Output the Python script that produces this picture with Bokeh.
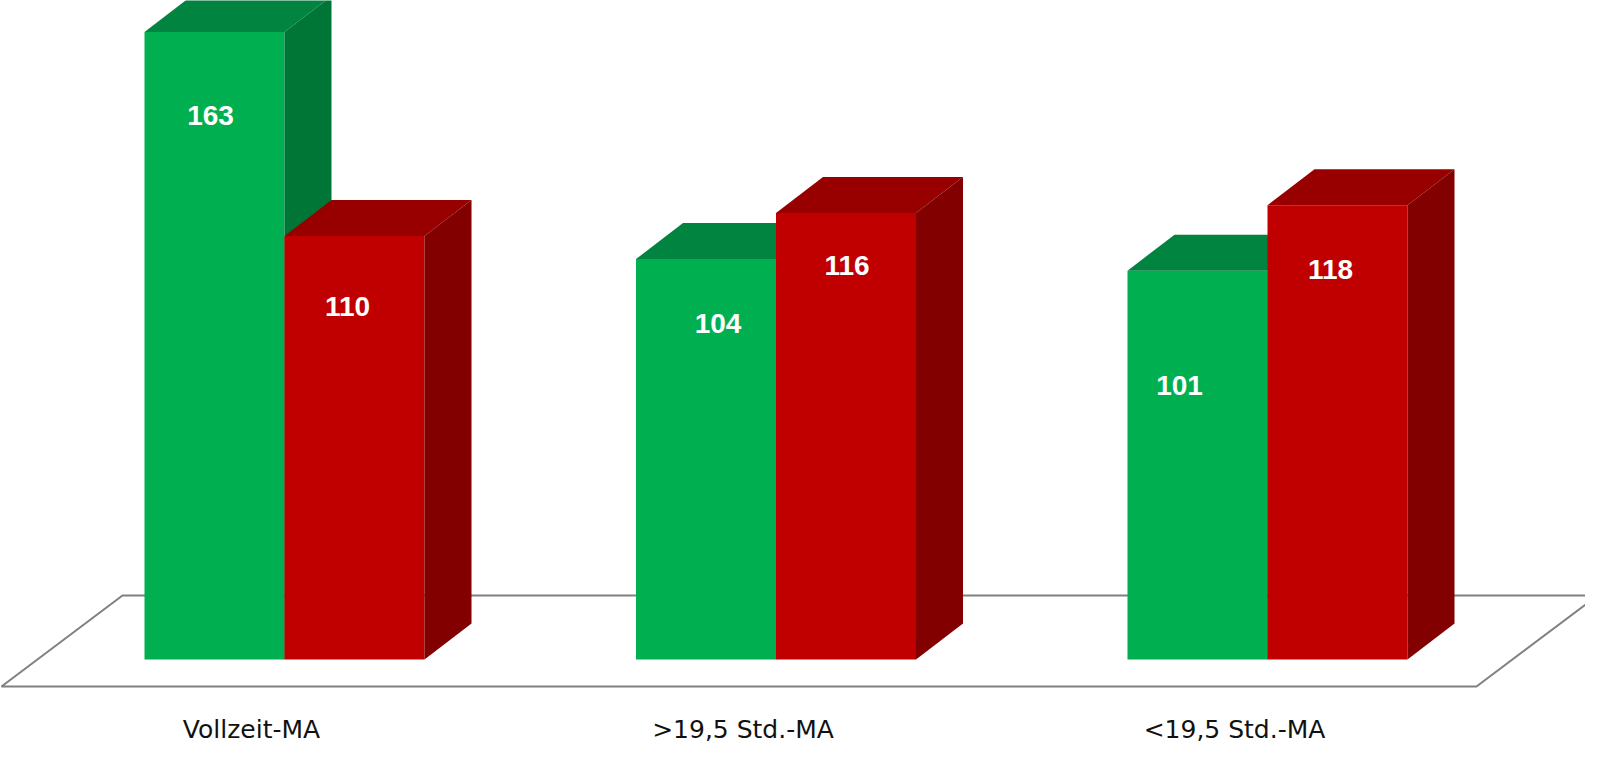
from bokeh.plotting import figure
from bokeh.models import ColumnDataSource, Range1d
from bokeh.core.properties import value
from bokeh.embed import file_html
from bokeh.resources import INLINE

# ---- data ----
categories = ["Vollzeit-MA", ">19,5 Std.-MA", "<19,5 Std.-MA"]
green_values = [163, 104, 101]
red_values = [110, 116, 118]

# ---- layout / style constants ----
W, H = 1585, 744
PX_X = 491.5          # pixels per category unit
PX_Y = 3.85           # pixels per value unit
X0_PX = 284           # pixel x of first category centre
BASE_PX = 659         # pixel y (from top) of value 0
BAR_W = 140 / PX_X
DX = 47 / PX_X        # 3D depth offset
DY = 36 / PX_Y
FLOOR_FRONT = -27 / PX_Y
FLOOR_BACK = 64 / PX_Y
FLOOR_DX = 121 / PX_X

GREEN = ("#00B050", "#00843F", "#007636")
RED = ("#C00000", "#980000", "#820000")

# label tweaks (pixels): below bar top, horizontal shift
g_lab_dy = [84, 64, 115]
g_lab_dx = [-4, 12, -18]
r_lab_dy = [70, 53, 64]
r_lab_dx = [-7, 1, -7]

p = figure(width=W, height=H, output_backend="svg", toolbar_location=None,
           x_range=Range1d(-X0_PX / PX_X, (W - X0_PX) / PX_X),
           y_range=Range1d(-(H - BASE_PX) / PX_Y, BASE_PX / PX_Y),
           min_border=0, outline_line_color=None)
p.axis.visible = False
p.grid.visible = False
p.background_fill_color = "white"
p.border_fill_color = "white"

# floor
n = len(categories)
fl = -0.5758
fr = (n - 1) + 0.4252
p.patch([fl, fr, fr + FLOOR_DX, fl + FLOOR_DX],
        [FLOOR_FRONT, FLOOR_FRONT, FLOOR_BACK, FLOOR_BACK],
        fill_color=None, line_color="#808080", line_width=2)

xs, ys, cols = [], [], []

def add_bar(x0, x1, h, colors):
    front, top, side = colors
    xs.append([x0, x1, x1, x0]); ys.append([0, 0, h, h]); cols.append(front)
    xs.append([x0, x1, x1 + DX, x0 + DX]); ys.append([h, h, h + DY, h + DY]); cols.append(top)
    xs.append([x1, x1 + DX, x1 + DX, x1]); ys.append([0, DY, h + DY, h]); cols.append(side)

for i in range(n):
    add_bar(i - BAR_W, i, green_values[i], GREEN)
    add_bar(i, i + BAR_W, red_values[i], RED)

p.patches(xs=xs, ys=ys, fill_color=cols, line_color=None)

# value labels
lx, ly, lt = [], [], []
for i in range(n):
    lx.append(i - BAR_W / 2 + g_lab_dx[i] / PX_X)
    ly.append(green_values[i] - g_lab_dy[i] / PX_Y)
    lt.append(str(green_values[i]))
    lx.append(i + BAR_W / 2 + r_lab_dx[i] / PX_X)
    ly.append(red_values[i] - r_lab_dy[i] / PX_Y)
    lt.append(str(red_values[i]))
p.text(x=lx, y=ly, text=lt, text_color="white", text_font=value("Liberation Sans"),
       text_font_style="bold", text_font_size="28px", text_align="center",
       text_baseline="middle")

# category labels
p.text(x=[i - 33 / PX_X for i in range(n)], y=[-70 / PX_Y] * n, text=categories,
       text_color="#111111", text_font=value("DejaVu Sans"), text_font_size="25px",
       text_align="center", text_baseline="middle")

open("out.html", "w").write(file_html(p, INLINE))
